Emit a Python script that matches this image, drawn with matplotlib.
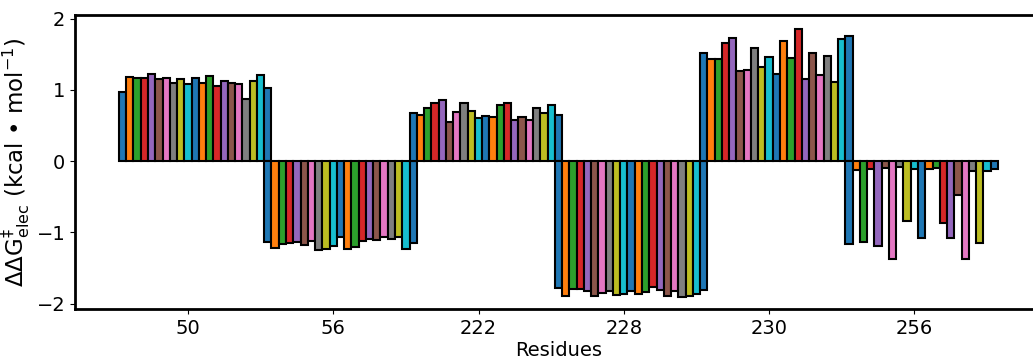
import numpy as np
import matplotlib.pyplot as plt

# residues on the x axis, each with 21 bars
residues = ['50', '56', '222', '228', '230', '256']

res_50 = [0.97, 1.18, 1.16, 1.16, 1.22, 1.15, 1.16, 1.09, 1.15, 1.08, 1.17,
          1.10, 1.20, 1.06, 1.12, 1.10, 1.08, 0.87, 1.12, 1.21, 1.03]
res_56 = [-1.13, -1.22, -1.16, -1.15, -1.14, -1.18, -1.12, -1.25, -1.24, -1.19, -1.06,
          -1.24, -1.20, -1.12, -1.09, -1.11, -1.07, -1.10, -1.07, -1.23, -1.15]
res_222 = [0.68, 0.65, 0.75, 0.81, 0.86, 0.55, 0.69, 0.82, 0.71, 0.61, 0.64,
           0.62, 0.79, 0.82, 0.58, 0.62, 0.58, 0.75, 0.68, 0.79, 0.65]
res_228 = [-1.78, -1.90, -1.80, -1.79, -1.83, -1.89, -1.85, -1.82, -1.88, -1.87, -1.82,
           -1.87, -1.84, -1.76, -1.81, -1.89, -1.83, -1.91, -1.90, -1.86, -1.81]
res_230 = [1.52, 1.43, 1.44, 1.66, 1.73, 1.27, 1.28, 1.59, 1.32, 1.46, 1.22,
           1.69, 1.45, 1.86, 1.15, 1.52, 1.21, 1.47, 1.11, 1.71, 1.76]
res_256 = [-1.16, -0.13, -1.14, -0.11, -1.19, -0.10, -1.37, -0.08, -0.84, -0.11, -1.08,
           -0.11, -0.10, -0.87, -1.08, -0.48, -1.38, -0.14, -1.15, -0.14, -0.11]

data = [res_50, res_56, res_222, res_228, res_230, res_256]

fig = plt.figure(figsize=(10.33, 3.58), dpi=100)
ax = fig.add_axes([0.0726, 0.136, 0.936, 0.822])

step = 20
for g, vals in enumerate(data):
    x = g * step + np.arange(len(vals))
    colors = ['C%d' % (j % 10) for j in range(len(vals))]
    ax.bar(x, vals, width=1.0, color=colors, edgecolor='black', linewidth=1.5)

ax.set_xticks([g * step + 9 for g in range(len(residues))])
ax.set_xticklabels(residues)
ax.set_yticks([-2, -1, 0, 1, 2])
ax.set_xlim(-6.55, 126.55)
ax.set_ylim(-2.08, 2.05)

ax.tick_params(labelsize=14)
for s in ax.spines.values():
    s.set_linewidth(2)

ax.set_xlabel('Residues', fontsize=14, labelpad=2)
ax.set_ylabel(r'$\Delta\Delta$G$^{\ddagger}_{\mathrm{elec}}$ (kcal • mol$^{-1}$)',
              fontsize=16.5, labelpad=3)

fig.savefig('out.png', dpi=100)
